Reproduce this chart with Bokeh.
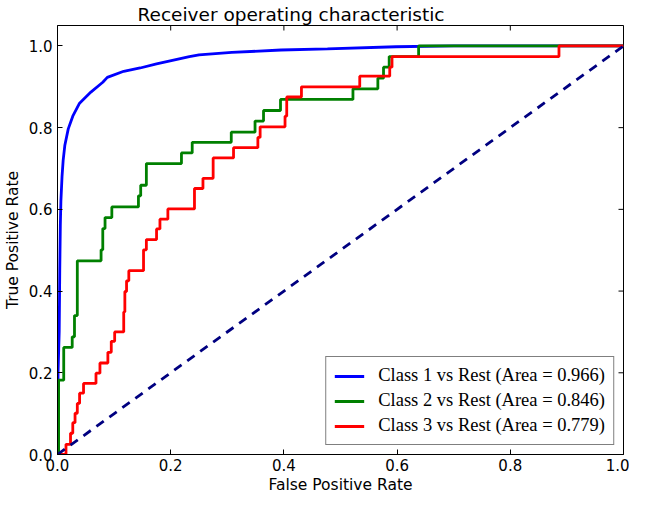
import numpy as np
from bokeh.plotting import figure
from bokeh.models import Range1d, FixedTicker, PrintfTickFormatter, Legend, LegendItem
from bokeh.embed import file_html
from bokeh.resources import INLINE

title_text = "Receiver operating characteristic"
x_label = "False Positive Rate"
y_label = "True Positive Rate"
tick_values = [0.0, 0.2, 0.4, 0.6, 0.8, 1.0]
x_min, x_max = 0.0, 1.0
y_min, y_max = 0.0, 1.05

names = ["Class 1 vs Rest (Area = 0.966)",
         "Class 2 vs Rest (Area = 0.846)",
         "Class 3 vs Rest (Area = 0.779)"]
colors = ["#0000ff", "#008000", "#ff0000"]

# Class 1 (smooth curve)
fpr1 = [0.0, 0.001, 0.003, 0.004, 0.005, 0.006, 0.008, 0.010, 0.013, 0.019, 0.027, 0.039, 0.059,
        0.080, 0.088, 0.117, 0.146, 0.175, 0.233, 0.250, 0.308, 0.395, 0.477, 0.598, 0.700, 1.0]
tpr1 = [0.0, 0.200, 0.300, 0.450, 0.560, 0.620, 0.680, 0.720, 0.757, 0.797, 0.828, 0.860, 0.887,
        0.911, 0.923, 0.938, 0.946, 0.956, 0.974, 0.978, 0.984, 0.990, 0.993, 0.998, 1.0, 1.0]

# Class 2 (step curve: x where the jump happens, new y)
fpr2 = [0.0, 0.002, 0.011, 0.026, 0.030, 0.035, 0.077, 0.080, 0.084, 0.096, 0.143, 0.147, 0.157,
        0.219, 0.238, 0.307, 0.349, 0.364, 0.394, 0.522, 0.566, 0.576, 0.586, 0.638, 1.0]
tpr2 = [0.0, 0.182, 0.262, 0.288, 0.340, 0.474, 0.501, 0.553, 0.580, 0.606, 0.633, 0.659, 0.712,
        0.738, 0.764, 0.789, 0.816, 0.842, 0.869, 0.895, 0.921, 0.948, 0.974, 1.0, 1.0]

# Class 3 (step curve)
fpr3 = [0.0, 0.015, 0.023, 0.027, 0.031, 0.035, 0.039, 0.046, 0.068, 0.075, 0.089, 0.095, 0.101,
        0.117, 0.119, 0.122, 0.126, 0.152, 0.157, 0.175, 0.181, 0.195, 0.242, 0.257, 0.275, 0.311,
        0.354, 0.358, 0.402, 0.405, 0.431, 0.534, 0.587, 0.591, 0.886, 1.0]
tpr3 = [0.0, 0.025, 0.052, 0.078, 0.101, 0.125, 0.150, 0.174, 0.199, 0.224, 0.250, 0.277, 0.300,
        0.349, 0.399, 0.425, 0.450, 0.501, 0.526, 0.552, 0.576, 0.601, 0.651, 0.676, 0.726, 0.751,
        0.776, 0.802, 0.828, 0.875, 0.900, 0.926, 0.948, 0.974, 1.0, 1.0]

chance_x = [0.0, 1.0]
chance_y = [0.0, 1.0]


def steps(x, y):
    x = np.asarray(x)
    y = np.asarray(y)
    return np.repeat(x, 2)[1:], np.repeat(y, 2)[:-1]


p = figure(width=629, height=496, output_backend="svg", toolbar_location=None,
           x_range=Range1d(x_min, x_max), y_range=Range1d(y_min, y_max), title=title_text,
           min_border_left=0, min_border_right=6, min_border_top=0, min_border_bottom=0)
p.background_fill_color = "white"
p.border_fill_color = "white"
p.outline_line_color = "black"
p.outline_line_width = 1
p.grid.visible = False

p.title.text_font = "DejaVu Sans"
p.title.text_font_size = "18.5px"
p.title.text_font_style = "normal"
p.title.text_color = "black"
p.title.align = "left"
p.title.offset = 80
p.title.standoff = 2

for ax in (p.xaxis[0], p.yaxis[0]):
    ax.ticker = FixedTicker(ticks=tick_values)
    ax.formatter = PrintfTickFormatter(format="%.1f")
    ax.major_tick_in = 5
    ax.major_tick_out = 0
    ax.minor_tick_line_color = None
    ax.major_tick_line_color = "black"
    ax.axis_line_color = "black"
    ax.major_label_text_font = "DejaVu Sans"
    ax.major_label_text_font_size = "15px"
    ax.major_label_text_color = "black"
    ax.axis_label_text_font = "DejaVu Sans"
    ax.axis_label_text_font_size = "15.5px"
    ax.axis_label_text_font_style = "normal"
    ax.axis_label_text_color = "black"

p.xaxis.axis_label = x_label
p.yaxis.axis_label = y_label
p.xaxis.major_label_standoff = 4
p.xaxis.axis_label_standoff = 2
p.yaxis.major_label_standoff = 5
p.yaxis.axis_label_standoff = 4

# mirrored inward ticks on the top and right frame edges
p.ray(x=tick_values, y=[y_max] * len(tick_values), length=5, length_units="screen",
      angle=-np.pi / 2, line_color="black", line_width=1)
p.ray(x=[x_max] * len(tick_values), y=tick_values, length=5, length_units="screen",
      angle=np.pi, line_color="black", line_width=1)

r1 = p.line(fpr1, tpr1, line_color=colors[0], line_width=2.8)
x2, y2 = steps(fpr2, tpr2)
r2 = p.line(x2, y2, line_color=colors[1], line_width=2.8)
x3, y3 = steps(fpr3, tpr3)
r3 = p.line(x3, y3, line_color=colors[2], line_width=2.8)
p.line(chance_x, chance_y, line_color="#000080", line_width=2.8, line_dash="9 7")

legend = Legend(items=[LegendItem(label=names[0], renderers=[r1]),
                       LegendItem(label=names[1], renderers=[r2]),
                       LegendItem(label=names[2], renderers=[r3])],
                location="bottom_right")
legend.label_text_font = "Liberation Serif"
legend.label_text_font_size = "18.5px"
legend.label_text_color = "black"
legend.border_line_color = "black"
legend.border_line_width = 1
legend.background_fill_alpha = 1
legend.padding = 8
legend.spacing = 4
legend.margin = 9
legend.glyph_width = 30
legend.label_standoff = 14
legend.label_width = 216
p.add_layout(legend)

open("out.html", "w").write(file_html(p, INLINE))
